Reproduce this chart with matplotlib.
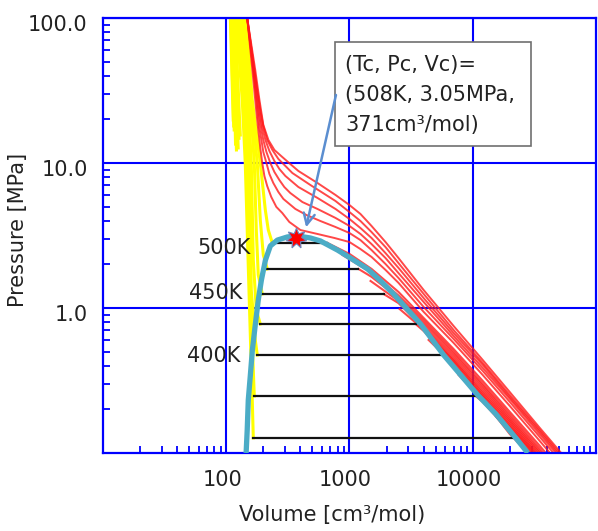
import numpy as np
import matplotlib
matplotlib.use('Agg')
from matplotlib import pyplot as plt
from matplotlib.patches import Rectangle
from matplotlib.transforms import ScaledTranslation

# critical point
crit_t = 508
crit_p = 3.05
crit_v = 371

# two-phase tie lines: temperature, saturation pressure, liquid / vapour volume
tie_t = [500, 475, 450, 425, 400, 375, 350]
tie_p = [2.81, 1.86, 1.25, 0.775, 0.474, 0.247, 0.127]
tie_vl = [237, 215, 196, 189, 179, 169, 166]
tie_vv = [662, 1183, 1890, 3441, 5703, 10578, 22370]
label_t = [500, 450, 400]

# saturation dome (liquid side -> critical -> vapour side)
dome_v = [145, 148, 151, 157, 163, 172, 182, 193, 208, 228, 260, 313, 378,
          482, 581, 799, 1019, 1401, 1786, 2279, 3778, 5810, 7990, 10980,
          15380, 22370, 28010]
dome_p = [0.1, 0.144, 0.232, 0.345, 0.513, 0.763, 1.135, 1.56, 2.14, 2.68,
          2.94, 3.09, 3.14, 3.04, 2.90, 2.51, 2.21, 1.86, 1.54, 1.25, 0.775,
          0.474, 0.345, 0.251, 0.186, 0.127, 0.1]

# liquid branches of the subcritical isotherms (same order as tie_t)
liq_v = [[145.4, 162.7, 189.0, 207.6, 219.5, 236.6],
         [142.7, 159.7, 178.6, 189.0, 199.9, 215.4],
         [140.1, 156.7, 168.9, 175.4, 182.0, 196.2],
         [134.9, 151.0, 159.7, 165.8, 175.4, 189.0],
         [129.9, 145.4, 153.8, 159.7, 172.1, 178.6],
         [125.2, 140.1, 148.2, 156.7, 165.8, 168.9],
         [120.6, 134.9, 142.7, 153.8, 162.7, 165.8]]
liq_p = [[100, 27.2, 10, 4.74, 3.45, 2.81],
         [100, 27.2, 10, 4.05, 2.32, 1.86],
         [100, 27.2, 10, 3.45, 1.69, 1.25],
         [100, 27.2, 10, 2.14, 0.969, 0.775],
         [100, 27.2, 10, 1.33, 0.602, 0.474],
         [100, 27.2, 10, 1.135, 0.374, 0.247],
         [100, 27.2, 10, 1.135, 0.232, 0.127]]

# low temperature liquid isotherms (only the high pressure part)
cold_v = [[108, 114], [109, 115], [110, 116], [112, 121], [113, 119],
          [114, 123], [116, 125], [117, 127], [118, 130]]
cold_p = [[100, 19.8], [100, 18.0], [100, 16.9], [100, 12.3], [100, 13.5],
          [100, 14.4], [100, 12.7], [100, 14.8], [100, 15.6]]

# vapour branches of the subcritical isotherms (500 K down to 350 K)
vap_v = [[662, 1000, 1510, 2500, 4000, 7000, 12060, 20000, 35000, 60300],
         [877, 1510, 2500, 4000, 7000, 12060, 20000, 35000, 60300],
         [1183, 1510, 2500, 4000, 7000, 12060, 20000, 35000, 60300],
         [1483, 2500, 4000, 7000, 12060, 20000, 35000],
         [1890, 2500, 4000, 7000, 12060, 20000, 35000],
         [2553, 4000, 7000, 12060, 20000, 35000],
         [3441, 4000, 7000, 12060, 20000, 35000],
         [4385, 7000, 12060, 20000, 35000],
         [5703, 7000, 12060, 20000, 35000],
         [7690, 12060, 20000, 35000],
         [10578, 12060, 20000, 35000],
         [15380, 20000, 35000],
         [22370, 35000]]
vap_p = [[2.81, 2.36, 1.86, 1.29, 0.853, 0.521, 0.314, 0.192, 0.112, 0.0651],
         [2.32, 1.75, 1.22, 0.82, 0.50, 0.30, 0.184, 0.107, 0.062],
         [1.86, 1.64, 1.17, 0.788, 0.482, 0.290, 0.177, 0.103, 0.0601],
         [1.536, 1.12, 0.755, 0.463, 0.279, 0.171, 0.100],
         [1.25, 1.08, 0.728, 0.445, 0.268, 0.166, 0.0969],
         [0.984, 0.71, 0.434, 0.259, 0.161, 0.094],
         [0.775, 0.694, 0.424, 0.251, 0.156, 0.0923],
         [0.602, 0.41, 0.245, 0.152, 0.090],
         [0.474, 0.398, 0.239, 0.149, 0.0881],
         [0.345, 0.232, 0.145, 0.085],
         [0.247, 0.225, 0.140, 0.0827],
         [0.180, 0.135, 0.083],
         [0.127, 0.0839]]

# supercritical isotherms, from the critical one upward
super_v = [[148, 163, 175, 182, 186, 189, 196, 204, 215, 232, 255, 285, 325, 400, 550, 755, 1000, 1228, 1510, 1962, 2500, 4000, 7000, 12060, 20000, 35000, 60300],
           [148, 166, 179, 186, 193, 200, 212, 224, 241, 265, 291, 364, 447, 581, 770, 1000, 1228, 1510, 1962, 2500, 4000, 7000, 12060, 20000, 35000, 60300],
           [148, 166, 182, 193, 200, 212, 228, 246, 270, 296, 331, 415, 550, 770, 1000, 1228, 1510, 1962, 2500, 4000, 7000, 12060, 20000, 35000, 60300],
           [148, 169, 186, 196, 208, 224, 246, 270, 302, 385, 550, 770, 1000, 1228, 1510, 1962, 2500, 4000, 7000, 12060, 20000, 35000, 60300],
           [148, 169, 189, 200, 215, 237, 265, 302, 344, 482, 770, 1000, 1228, 1510, 1962, 2500, 4000, 7000, 12060, 20000, 35000, 60300],
           [148, 172, 186, 200, 220, 246, 285, 331, 385, 550, 770, 1000, 1228, 1510, 1962, 2500, 4000, 7000, 12060, 20000, 35000, 60300]]
super_p = [[100, 43.8, 23.2, 16.9, 14.4, 12.7, 10.0, 8.14, 6.94, 5.83, 4.98, 4.52, 3.92, 3.45, 3.24, 3.04, 2.85, 2.55, 2.25, 1.83, 1.49, 0.94, 0.574, 0.345, 0.211, 0.121, 0.0705],
           [100, 43.8, 23.2, 17.4, 14.4, 11.9, 10.0, 8.40, 7.28, 6.31, 5.65, 4.82, 4.38, 3.98, 3.62, 3.29, 2.94, 2.51, 2.01, 1.61, 1.016, 0.611, 0.368, 0.225, 0.129, 0.0751],
           [100, 43.8, 23.2, 16.9, 14.4, 11.9, 10.0, 8.67, 7.63, 6.83, 6.21, 5.38, 4.82, 4.18, 3.68, 3.24, 2.76, 2.21, 1.74, 1.10, 0.641, 0.386, 0.236, 0.135, 0.0788],
           [100, 43.8, 23.2, 17.7, 14.4, 12.1, 10.32, 9.09, 8.14, 6.83, 5.74, 4.82, 4.11, 3.56, 3.04, 2.39, 1.89, 1.17, 0.672, 0.405, 0.243, 0.140, 0.0813],
           [100, 43.8, 23.2, 18.0, 14.4, 12.3, 10.66, 9.54, 8.53, 7.05, 5.47, 4.59, 3.98, 3.34, 2.63, 2.04, 1.25, 0.705, 0.418, 0.251, 0.144, 0.0839],
           [100, 43.8, 27.2, 18.3, 14.4, 12.3, 11.0, 9.84, 8.81, 7.28, 6.02, 5.13, 4.45, 3.68, 2.85, 2.21, 1.33, 0.751, 0.438, 0.263, 0.149, 0.0867]]

x_ticks = [100, 1000, 10000]
x_ticklabels = ['100', '1000', '10000']
y_ticks = [1, 10, 100]
y_ticklabels = ['1.0', '10.0', '100.0']

blue = '#0000ff'
red = '#ff1a1a'
yellow = '#ffff00'
teal = '#4bacc6'

fig = plt.figure(figsize=(5.98, 5.31), dpi=100)
ax = fig.add_axes([0.1722, 0.1469, 0.8244, 0.8192])
ax.set_xscale('log')
ax.set_yscale('log')
ax.set_xlim(10, 100000)
ax.set_ylim(0.1, 100)

for v, p in zip(cold_v, cold_p):
    ax.plot(v, p, color=yellow, lw=2.2, zorder=2)
for v, p in zip(liq_v, liq_p):
    ax.plot(v, p, color=yellow, lw=2.2, zorder=2)

for v, p in zip(vap_v, vap_p):
    ax.plot(v, p, color=red, lw=1.5, alpha=0.8, zorder=2.1)
for v, p in zip(super_v, super_p):
    ax.plot(v, p, color=red, lw=1.4, alpha=0.8, zorder=2.1)

for p, vl, vv in zip(tie_p, tie_vl, tie_vv):
    ax.plot([vl, vv], [p, p], color='#111111', lw=1.6, zorder=2.2)

ax.plot(dome_v, dome_p, color=teal, lw=3.8, solid_capstyle='butt', zorder=3)
ax.plot([crit_v], [crit_p], marker=(7, 1, 0), ms=15, color='#ff0000',
        mec='#6a88c0', mew=0.8, zorder=4)

# temperature labels next to the tie lines
lbl_off = {500: (-22, -5), 450: (-20, 1), 400: (-17, -1)}
for t, p, vl in zip(tie_t, tie_p, tie_vl):
    if t in label_t:
        ax.annotate('%dK' % t, xy=(vl, p), xytext=lbl_off[t],
                    textcoords='offset pixels', ha='right', va='center',
                    fontsize=15, color='#222222', zorder=5)

# critical point call-out
ax.add_patch(Rectangle((0.4706, 0.7057), 0.3976, 0.2391, transform=ax.transAxes,
                       fc='white', ec='#6f6f6f', lw=1.2, zorder=6))
box_lines = ['(Tc, Pc, Vc)=',
             '(%dK, %.2fMPa,' % (crit_t, crit_p),
             '%dcm³/mol)' % crit_v]
for i, s in enumerate(box_lines):
    ax.text(0.4909, 0.892 - i * 0.0695, s, transform=ax.transAxes,
            ha='left', va='center', fontsize=15, color='#222222', zorder=7)
ax.annotate('', xy=(445, 3.6), xycoords='data',
            xytext=(0.4726, 0.823), textcoords='axes fraction',
            arrowprops=dict(arrowstyle='->', color='#5b8ed0', lw=1.8,
                            shrinkA=0, shrinkB=0, mutation_scale=20),
            zorder=7)

# axes styling
ax.grid(True, which='major', color=blue, lw=1.5)
ax.set_axisbelow(True)
for side in ax.spines:
    ax.spines[side].set_color(blue)
    ax.spines[side].set_linewidth(1.6)
ax.set_xticks(x_ticks)
ax.set_xticklabels(x_ticklabels)
ax.set_yticks(y_ticks)
ax.set_yticklabels(y_ticklabels)
ax.tick_params(which='major', length=0, labelsize=15, labelcolor='#222222')
ax.tick_params(axis='x', which='major', pad=12)
ax.tick_params(axis='y', which='major', pad=11)
ax.tick_params(which='minor', direction='in', length=5, width=1.3, color=blue,
               top=False, right=False)
ax.xaxis.set_minor_formatter(plt.NullFormatter())
ax.yaxis.set_minor_formatter(plt.NullFormatter())
for lab in ax.get_yticklabels():
    lab.set_transform(lab.get_transform() + ScaledTranslation(0, -0.05, fig.dpi_scale_trans))
for lab in ax.get_xticklabels():
    lab.set_transform(lab.get_transform() + ScaledTranslation(-0.04, 0, fig.dpi_scale_trans))

ax.set_xlabel('Volume [cm³/mol)', fontsize=15, color='#222222')
ax.set_ylabel('Pressure [MPa]', fontsize=15, color='#222222')
ax.xaxis.set_label_coords(0.4645, -0.12)
ax.yaxis.set_label_coords(-0.152, 0.513)

fig.savefig('out.png', dpi=100, facecolor='white')
